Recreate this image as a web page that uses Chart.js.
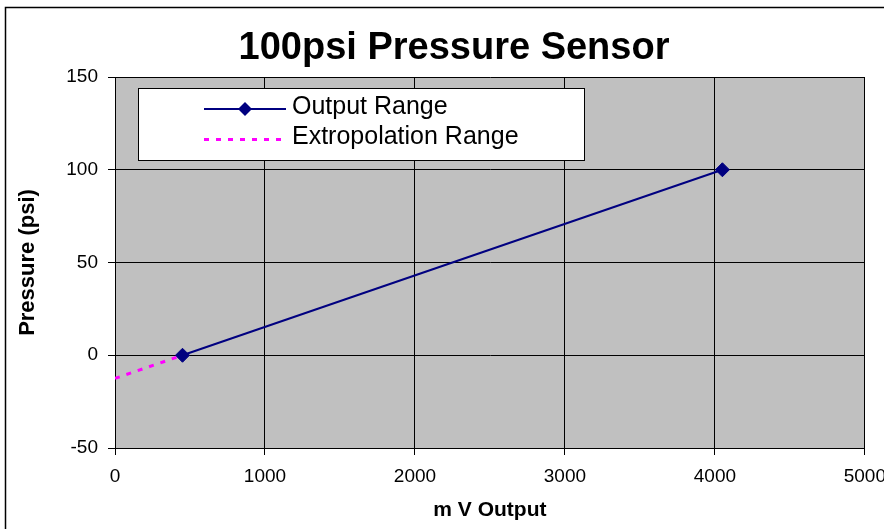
<!DOCTYPE html>
<html>
<head>
<meta charset="utf-8">
<script src="https://cdn.jsdelivr.net/npm/chart.js@4.4.1/dist/chart.umd.min.js"></script>
<style>
  html, body { margin: 0; padding: 0; background: #fff; overflow: hidden; }
  #chart { display: block; }
</style>
</head>
<body>
<canvas id="chart" width="896" height="529"></canvas>
<script>
// chart data
var chartTitle = '100psi Pressure Sensor';
var seriesNames = ['Output Range', 'Extropolation Range'];
var outputMv = [450, 4050];
var outputPsi = [0, 100];
var extraMv = [0, 450];
var extraPsi = [-12.5, 0];
var xTicks = [0, 1000, 2000, 3000, 4000, 5000];
var yTicks = [-50, 0, 50, 100, 150];

var FONT = '"Liberation Sans", Arial, sans-serif';

function toPoints(xs, ys) {
   return xs.map(function (x, i) { return { x: x, y: ys[i] }; });
}

// white page, frame and grey plot area
var backgroundPlugin = {
   id: 'background',
   beforeDraw: function (chart) {
      var ctx = chart.ctx;
      var a = chart.chartArea;
      ctx.save();
      ctx.fillStyle = '#fff';
      ctx.fillRect(0, 0, chart.width, chart.height);
      ctx.strokeStyle = '#000';
      ctx.lineWidth = 1.5;
      ctx.strokeRect(5.5, 7.5, 1000, 1000);
      ctx.fillStyle = '#c0c0c0';
      ctx.fillRect(a.left, a.top, a.right - a.left, a.bottom - a.top);
      ctx.restore();
   }
};

// title and boxed legend, drawn like the original
var overlayPlugin = {
   id: 'overlay',
   afterDraw: function (chart) {
      var ctx = chart.ctx;
      var ds = chart.data.datasets;
      ctx.save();
      ctx.fillStyle = '#000';
      ctx.font = 'bold 38px ' + FONT;
      ctx.textAlign = 'center';
      ctx.textBaseline = 'alphabetic';
      ctx.fillText(chartTitle, 454, 59);

      ctx.fillStyle = '#fff';
      ctx.fillRect(138.5, 88.5, 446, 72);
      ctx.strokeStyle = '#000';
      ctx.lineWidth = 1;
      ctx.strokeRect(138.5, 88.5, 446, 72);

      // row 1: output range
      var out = ds[1];
      ctx.strokeStyle = out.borderColor;
      ctx.lineWidth = 2;
      ctx.beginPath();
      ctx.moveTo(204, 109);
      ctx.lineTo(286, 109);
      ctx.stroke();
      ctx.fillStyle = out.backgroundColor;
      ctx.beginPath();
      ctx.moveTo(245, 102);
      ctx.lineTo(252, 109);
      ctx.lineTo(245, 116);
      ctx.lineTo(238, 109);
      ctx.closePath();
      ctx.fill();

      // row 2: extrapolation
      var ex = ds[0];
      ctx.strokeStyle = ex.borderColor;
      ctx.lineWidth = 3;
      ctx.setLineDash(ex.borderDash);
      ctx.beginPath();
      ctx.moveTo(204, 139.5);
      ctx.lineTo(284, 139.5);
      ctx.stroke();
      ctx.setLineDash([]);

      ctx.fillStyle = '#000';
      ctx.font = '25px ' + FONT;
      ctx.textAlign = 'left';
      ctx.fillText(out.label, 292, 114);
      ctx.fillText(ex.label, 292, 144);
      ctx.restore();
   }
};

function plain(value) { return String(value); }

var mychart = document.getElementById('chart').getContext('2d');

var newChart = new Chart(mychart, {
   type: 'scatter',
   data: {
      datasets: [
         {
            label: seriesNames[1],
            data: toPoints(extraMv, extraPsi),
            showLine: true,
            borderColor: '#ff00ff',
            backgroundColor: '#ff00ff',
            borderWidth: 3,
            borderDash: [5, 7],
            pointRadius: 0
         },
         {
            label: seriesNames[0],
            data: toPoints(outputMv, outputPsi),
            showLine: true,
            borderColor: '#000080',
            backgroundColor: '#000080',
            borderWidth: 2,
            pointStyle: 'rectRot',
            pointRadius: 7,
            pointBorderWidth: 1
         }
      ]
   },
   options: {
      responsive: false,
      animation: false,
      layout: { padding: { top: 77, left: 0, right: 0, bottom: 0 } },
      plugins: {
         legend: { display: false },
         title: { display: false },
         tooltip: { enabled: false }
      },
      scales: {
         x: {
            type: 'linear',
            min: 0,
            max: 5000,
            afterBuildTicks: function (scale) {
               scale.ticks = xTicks.map(function (v) { return { value: v }; });
            },
            afterFit: function (scale) { scale.height = 81; },
            grid: { color: '#000', lineWidth: 1, tickLength: 7, tickColor: '#000' },
            border: { color: '#000', width: 1 },
            ticks: { color: '#000', padding: 10, callback: plain, font: { family: FONT, size: 19 } },
            title: {
               display: true,
               text: 'm V Output',
               color: '#000',
               padding: 6,
               font: { family: FONT, size: 21, weight: 'bold' }
            }
         },
         y: {
            type: 'linear',
            min: -50,
            max: 150,
            afterBuildTicks: function (scale) {
               scale.ticks = yTicks.map(function (v) { return { value: v }; });
            },
            afterFit: function (scale) { scale.width = 115; },
            grid: { color: '#000', lineWidth: 1, tickLength: 7, tickColor: '#000' },
            border: { color: '#000', width: 1 },
            ticks: { color: '#000', padding: 10, callback: plain, font: { family: FONT, size: 19 } },
            title: {
               display: true,
               text: 'Pressure (psi)',
               color: '#000',
               padding: 15,
               font: { family: FONT, size: 22, weight: 'bold' }
            }
         }
      }
   },
   plugins: [backgroundPlugin, overlayPlugin]
});
</script>
</body>
</html>
